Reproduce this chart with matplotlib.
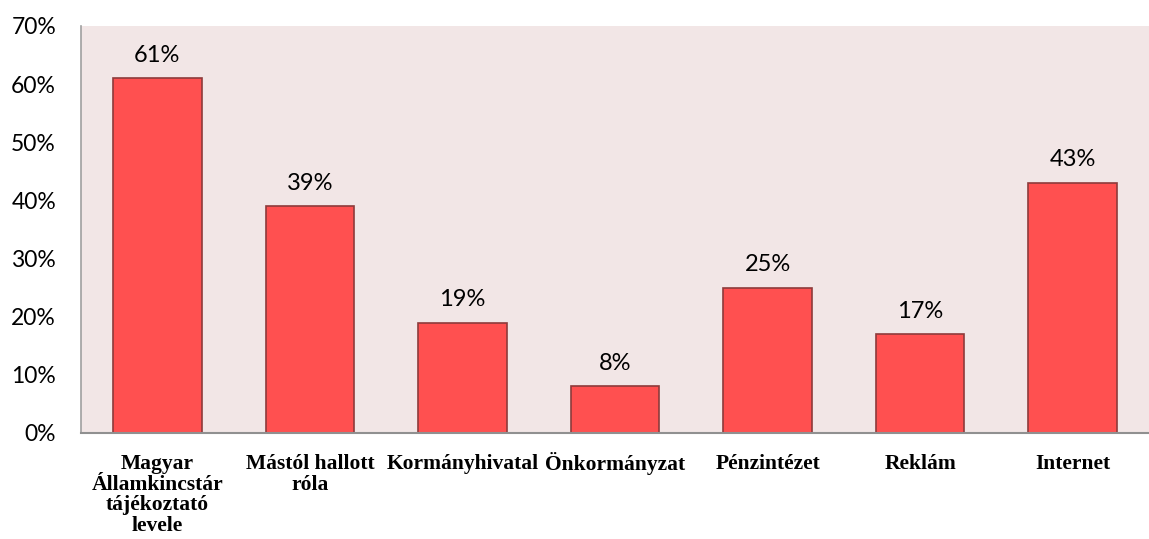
import matplotlib
matplotlib.use("Agg")
import matplotlib.pyplot as plt
from matplotlib.transforms import ScaledTranslation
import numpy as np

categories = ["Magyar\nÁllamkincstár\ntájékoztató\nlevele", "Mástól hallott\nróla",
              "Kormányhivatal", "Önkormányzat", "Pénzintézet", "Reklám", "Internet"]
values = [61, 39, 19, 8, 25, 17, 43]
yticks = [0, 10, 20, 30, 40, 50, 60, 70]

fig = plt.figure(figsize=(11.49, 5.39), dpi=100)
ax = fig.add_axes([0.0705, 0.1967, 0.9295, 0.7551])
ax.set_facecolor("#F2E6E6")

x = np.arange(len(categories))
ax.bar(x, values, width=0.58, color="#FF5050", edgecolor="#8E3B3B", linewidth=1.2, zorder=2)

for xi, v in zip(x, values):
    ax.annotate(f"{v}%", (xi, v), xytext=(0, 9), textcoords="offset points",
                ha="center", va="bottom", fontsize=17, family="Lato")

ax.set_xlim(-0.5, len(categories) - 0.5)
ax.set_ylim(0, 70)
ax.set_yticks(yticks)
ax.set_yticklabels([f"{t}%" for t in yticks], fontsize=16.5, family="Lato")
ax.set_xticks(x)
ax.set_xticklabels(categories, fontsize=15.5, family="Liberation Serif",
                   fontweight="bold", linespacing=1.05, va="top")
ax.tick_params(axis="both", length=0)
ax.tick_params(axis="x", pad=15)
ax.tick_params(axis="y", pad=18)

# accented capital makes this label sit lower; lift it to the common baseline
lbl = ax.get_xticklabels()[3]
lbl.set_transform(lbl.get_transform() + ScaledTranslation(0, 1.5 / 72, fig.dpi_scale_trans))

for s in ["top", "right"]:
    ax.spines[s].set_visible(False)
ax.spines["left"].set_color("#A0A0A0")
ax.spines["bottom"].set_color("#909090")
ax.spines["left"].set_linewidth(1.2)
ax.spines["bottom"].set_linewidth(1.5)

fig.savefig("out.png", dpi=100)
